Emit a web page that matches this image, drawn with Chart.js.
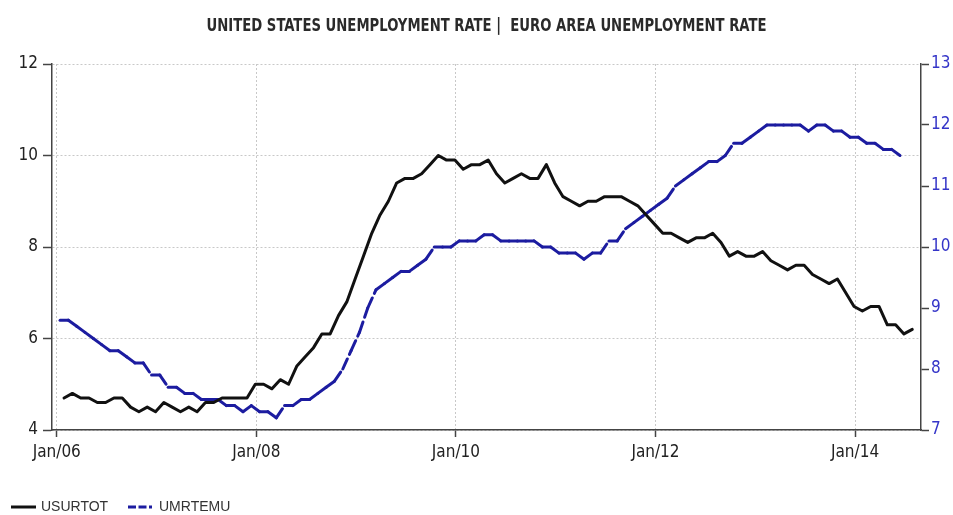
<!DOCTYPE html>
<html><head><meta charset="utf-8">
<script src="https://cdn.jsdelivr.net/npm/chart.js@4.4.1/dist/chart.umd.min.js"></script>
<style>html,body{margin:0;padding:0;background:#fff}#wrap{width:953px;height:515px;position:relative}</style>
</head><body><div id="wrap"><canvas id="c"></canvas></div>
<script>
const TITLE = 'UNITED STATES UNEMPLOYMENT RATE |  EURO AREA UNEMPLOYMENT RATE';
const SERIES_NAMES = ['USURTOT', 'UMRTEMU'];
const X_TICK_MONTHS = [0, 24, 48, 72, 96];
const X_TICK_LABELS = ['Jan/06', 'Jan/08', 'Jan/10', 'Jan/12', 'Jan/14'];
const LEFT_TICKS = [4, 6, 8, 10, 12];
const RIGHT_TICKS = [7, 8, 9, 10, 11, 12, 13];

// US unemployment rate, monthly Jan 2006 - Jul 2014 (left axis)
const US_RATE = [
  4.7,4.8,4.7,4.7,4.6,4.6,4.7,4.7,4.5,4.4,4.5,4.4,
  4.6,4.5,4.4,4.5,4.4,4.6,4.6,4.7,4.7,4.7,4.7,5.0,
  5.0,4.9,5.1,5.0,5.4,5.6,5.8,6.1,6.1,6.5,6.8,7.3,
  7.8,8.3,8.7,9.0,9.4,9.5,9.5,9.6,9.8,10.0,9.9,9.9,
  9.7,9.8,9.8,9.9,9.6,9.4,9.5,9.6,9.5,9.5,9.8,9.4,
  9.1,9.0,8.9,9.0,9.0,9.1,9.1,9.1,9.0,8.9,8.7,8.5,
  8.3,8.3,8.2,8.1,8.2,8.2,8.3,8.1,7.8,7.9,7.8,7.8,
  7.9,7.7,7.6,7.5,7.6,7.6,7.4,7.3,7.2,7.3,7.0,6.7,
  6.6,6.7,6.7,6.3,6.3,6.1,6.2
];
// Euro area unemployment rate, monthly Jan 2006 - Jun 2014 (right axis)
const EA_RATE = [
  8.8,8.8,8.7,8.6,8.5,8.4,8.3,8.3,8.2,8.1,8.1,7.9,
  7.9,7.7,7.7,7.6,7.6,7.5,7.5,7.5,7.4,7.4,7.3,7.4,
  7.3,7.3,7.2,7.4,7.4,7.5,7.5,7.6,7.7,7.8,8.0,8.3,
  8.6,9.0,9.3,9.4,9.5,9.6,9.6,9.7,9.8,10.0,10.0,10.0,
  10.1,10.1,10.1,10.2,10.2,10.1,10.1,10.1,10.1,10.1,10.0,10.0,
  9.9,9.9,9.9,9.8,9.9,9.9,10.1,10.1,10.3,10.4,10.5,10.6,
  10.7,10.8,11.0,11.1,11.2,11.3,11.4,11.4,11.5,11.7,11.7,11.8,
  11.9,12.0,12.0,12.0,12.0,12.0,11.9,12.0,12.0,11.9,11.9,11.8,
  11.8,11.7,11.7,11.6,11.6,11.5
];

const US_OFFSET = 0.88, EA_OFFSET = 0.4;
const usPoints = US_RATE.map((v, i) => ({x: i + US_OFFSET, y: v}));
const eaPoints = EA_RATE.map((v, i) => ({x: i + EA_OFFSET, y: v}));

const NARROW = '"Liberation Sans Narrow", "DejaVu Sans Condensed", "Arial Narrow", sans-serif';
const REG = '"Liberation Sans", Arial, sans-serif';
const BLACK = '#111111';
const BLUE = '#1c1ca0';
const AXIS = '#444444';
const GRID = '#c8c8c8';
const TITLE_WIDTH = 560;

const decor = {
  id: 'decor',
  afterDraw(chart) {
    const ctx = chart.ctx, ca = chart.chartArea;
    ctx.save();
    ctx.fillStyle = '#2a2a2a';
    ctx.font = 'bold 17px ' + NARROW;
    ctx.textAlign = 'center';
    ctx.textBaseline = 'middle';
    const w = ctx.measureText(TITLE).width;
    const sx = Math.min(1, TITLE_WIDTH / w);
    ctx.translate((ca.left + ca.right) / 2, 27);
    ctx.scale(sx, 1);
    ctx.fillText(TITLE, 0, 0);
    ctx.restore();

    ctx.save();
    const ly = 507;
    ctx.font = '14px ' + REG;
    ctx.textAlign = 'left';
    ctx.textBaseline = 'middle';
    ctx.fillStyle = '#333';
    ctx.lineWidth = 3;
    ctx.strokeStyle = BLACK;
    ctx.beginPath(); ctx.moveTo(11, ly); ctx.lineTo(36, ly); ctx.stroke();
    ctx.fillText(SERIES_NAMES[0], 41, ly);
    ctx.strokeStyle = BLUE;
    ctx.setLineDash([8, 2.5, 8, 2.5, 3, 3]);
    ctx.beginPath(); ctx.moveTo(128, ly); ctx.lineTo(155, ly); ctx.stroke();
    ctx.setLineDash([]);
    ctx.fillText(SERIES_NAMES[1], 159, ly);
    ctx.restore();
  }
};

new Chart(document.getElementById('c'), {
  type: 'line',
  data: {
    datasets: [
      {
        label: SERIES_NAMES[0], data: usPoints, yAxisID: 'yL',
        borderColor: BLACK, borderWidth: 3, pointRadius: 0, tension: 0,
        borderJoinStyle: 'round', borderCapStyle: 'round', fill: false
      },
      {
        label: SERIES_NAMES[1], data: eaPoints, yAxisID: 'yR',
        borderColor: BLUE, borderWidth: 3, pointRadius: 0, tension: 0, fill: false,
        borderDash: [11, 5], borderCapStyle: 'round', borderJoinStyle: 'round',
        segment: {
          borderColor: BLUE, borderWidth: 3, borderDash: [11, 5],
          borderCapStyle: 'round', borderJoinStyle: 'round',
          borderDashOffset: c => (c.p0DataIndex % 2) * 0.001
        }
      }
    ]
  },
  options: {
    responsive: true, maintainAspectRatio: false, animation: false,
    devicePixelRatio: 1,
    layout: {padding: {top: 64, left: 0, right: 0, bottom: 0}},
    plugins: {legend: {display: false}, title: {display: false}, tooltip: {enabled: false}},
    scales: {
      x: {
        type: 'linear', min: -0.57, max: 103.93,
        afterBuildTicks: s => { s.ticks = X_TICK_MONTHS.map(v => ({value: v})); },
        afterFit: s => { s.height = 85; },
        ticks: {
          autoSkip: false, maxRotation: 0, padding: 5, color: '#222',
          font: {family: NARROW, size: 17},
          callback: v => { const i = X_TICK_MONTHS.indexOf(v); return i >= 0 ? X_TICK_LABELS[i] : ''; }
        },
        grid: {color: GRID, lineWidth: 1, tickLength: 7, tickColor: AXIS, tickWidth: 1.5, tickBorderDash: []},
        border: {display: true, color: AXIS, width: 1.5, dash: [2, 2]}
      },
      yL: {
        type: 'linear', position: 'left', min: 4, max: 12,
        afterBuildTicks: s => { s.ticks = LEFT_TICKS.map(v => ({value: v})); },
        afterFit: s => { s.width = 52; },
        ticks: {padding: 5, color: '#222', font: {family: NARROW, size: 17}},
        grid: {color: GRID, lineWidth: 1, tickLength: 9, tickColor: AXIS, tickWidth: 1.5, tickBorderDash: []},
        border: {display: true, color: AXIS, width: 1.5, dash: [2, 2]}
      },
      yR: {
        type: 'linear', position: 'right', min: 7, max: 13,
        afterBuildTicks: s => { s.ticks = RIGHT_TICKS.map(v => ({value: v})); },
        afterFit: s => { s.width = 32; },
        ticks: {padding: 2, color: '#3535c8', font: {family: NARROW, size: 17}},
        grid: {drawOnChartArea: false, tickLength: 8, tickColor: AXIS, tickWidth: 1.5, tickBorderDash: []},
        border: {display: true, color: AXIS, width: 1.5}
      }
    }
  },
  plugins: [decor]
});
</script>
</body></html>
